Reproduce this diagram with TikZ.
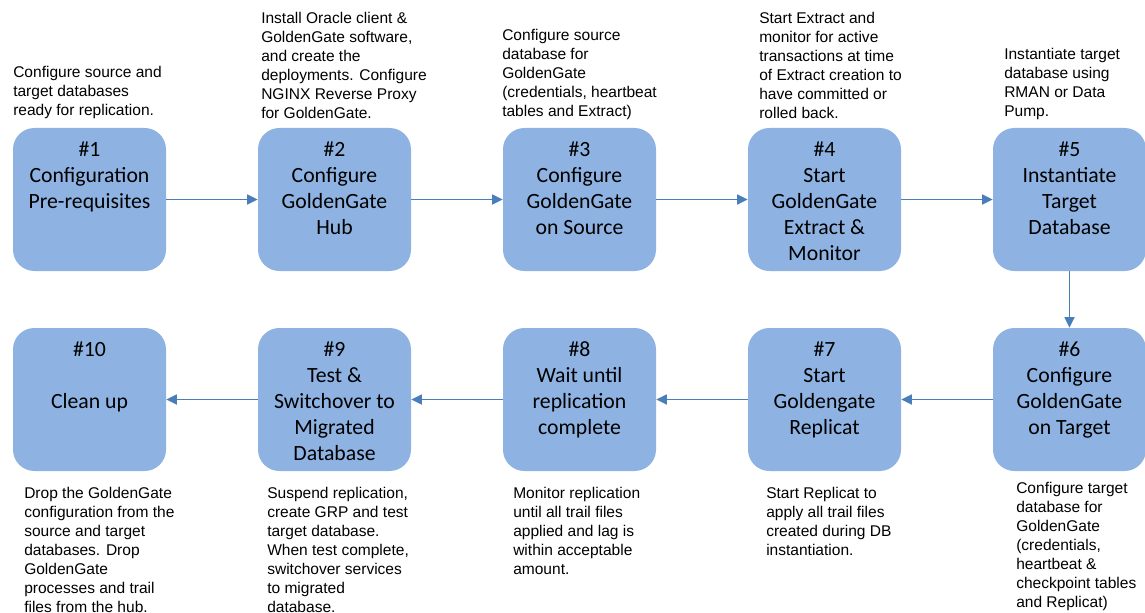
\documentclass[tikz,border=0pt]{standalone}
\usepackage{fontspec}
\setmainfont{Liberation Sans}
\newfontfamily\boxfont{Carlito}
\usetikzlibrary{arrows.meta,positioning}

\definecolor{stepblue}{RGB}{142,179,226}
\definecolor{flowblue}{RGB}{74,126,187}

\begin{document}
\begin{tikzpicture}[x=0.75pt,y=-0.75pt,
	stepbox/.style={rectangle,rounded corners=16pt,fill=stepblue,draw=none,minimum width=114.75pt,minimum height=107.25pt,inner sep=0pt},
	steptext/.style={align=center,inner sep=0pt,font=\boxfont\fontsize{16.3}{19.5}\selectfont},
	note/.style={align=left,anchor=north west,inner sep=0pt,font=\fontsize{11.65}{14.25}\selectfont},
	flow/.style={draw=flowblue,line width=1.3pt,-{Triangle[length=8pt,width=7.5pt]}}]
		\useasboundingbox (0,0) rectangle (1145,613);

		% top row, left to right
		\node[stepbox] (s1) at (89.5,199.5) {};
		\node[stepbox] (s2) at (334.5,199.5) {};
		\node[stepbox] (s3) at (579.5,199.5) {};
		\node[stepbox] (s4) at (824.5,199.5) {};
		\node[stepbox] (s5) at (1069.5,199.5) {};
		% bottom row, right to left
		\node[stepbox] (s6) at (1069.5,399.5) {};
		\node[stepbox] (s7) at (824.5,399.5) {};
		\node[stepbox] (s8) at (579.5,399.5) {};
		\node[stepbox] (s9) at (334.5,399.5) {};
		\node[stepbox] (s10) at (89.5,399.5) {};

		\node[steptext, below=10pt of s1.north] (t1) {\#1\\Configuration\\Pre-requisites};
		\node[steptext, below=10pt of s2.north] (t2) {\#2\\Configure\\GoldenGate\\Hub};
		\node[steptext, below=10pt of s3.north] (t3) {\#3\\Configure\\GoldenGate\\on Source};
		\node[steptext, below=10pt of s4.north] (t4) {\#4\\Start\\GoldenGate\\Extract \&\\Monitor};
		\node[steptext, below=10pt of s5.north] (t5) {\#5\\Instantiate\\Target\\Database};
		\node[steptext, below=10pt of s6.north] (t6) {\#6\\Configure\\GoldenGate\\on Target};
		\node[steptext, below=10pt of s7.north] (t7) {\#7\\Start\\Goldengate\\Replicat};
		\node[steptext, below=10pt of s8.north] (t8) {\#8\\Wait until\\replication\\complete};
		\node[steptext, below=10pt of s9.north] (t9) {\#9\\Test \&\\Switchover to\\Migrated\\Database};
		\node[steptext, below=10pt of s10.north] (t10) {\#10\\[19.5pt]Clean up};

		\draw[flow] (s1) -- (s2);
		\draw[flow] (s2) -- (s3);
		\draw[flow] (s3) -- (s4);
		\draw[flow] (s4) -- (s5);
		\draw[flow] (s5) -- (s6);
		\draw[flow] (s6) -- (s7);
		\draw[flow] (s7) -- (s8);
		\draw[flow] (s8) -- (s9);
		\draw[flow] (s9) -- (s10);

		% notes above the top row
		\node[note] (n1) at (13,66) {Configure source and\\target databases\\ready for replication.};
		\node[note] (n2) at (261,12) {Install Oracle client \&\\GoldenGate software,\\and create the\\deployments. Configure\\NGINX Reverse Proxy\\for GoldenGate.};
		\node[note] (n3) at (502,29) {Configure source\\database for\\GoldenGate\\(credentials, heartbeat\\tables and Extract)};
		\node[note] (n4) at (759,12) {Start Extract and\\monitor for active\\transactions at time\\of Extract creation to\\have committed or\\rolled back.};
		\node[note] (n5) at (1004,48) {Instantiate target\\database using\\RMAN or Data\\Pump.};
		% notes below the bottom row
		\node[note] (n6) at (1016,482) {Configure target\\database for\\GoldenGate\\(credentials,\\heartbeat \&\\checkpoint tables\\and Replicat)};
		\node[note] (n7) at (766,487) {Start Replicat to\\apply all trail files\\created during DB\\instantiation.};
		\node[note] (n8) at (513,487) {Monitor replication\\until all trail files\\applied and lag is\\within acceptable\\amount.};
		\node[note] (n9) at (267,487) {Suspend replication,\\create GRP and test\\target database.\\When test complete,\\switchover services\\to migrated\\database.};
		\node[note] (n10) at (24,487) {Drop the GoldenGate\\configuration from the\\source and target\\databases. Drop\\GoldenGate\\processes and trail\\files from the hub.};

	\end{tikzpicture}
\end{document}
